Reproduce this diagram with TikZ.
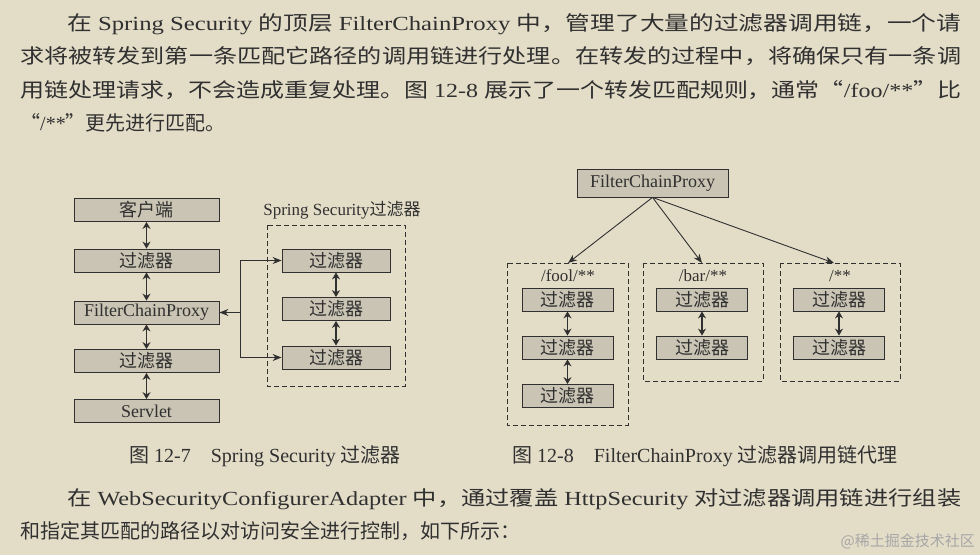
\documentclass[tikz,border=0pt]{standalone}
\usepackage{fontspec}
\usetikzlibrary{arrows.meta}
\setmainfont{Liberation Serif}
\newfontfamily\cjk{Noto Sans CJK SC}
\newcommand{\cj}[1]{{\cjk #1}}
\definecolor{bg}{HTML}{E3DDC8}
\definecolor{bx}{HTML}{C9C4B3}
\definecolor{ink}{HTML}{303030}
\begin{document}
\begin{tikzpicture}[x=1pt,y=-1pt,
  box/.style={draw=ink,fill=bx,line width=0.8pt,minimum height=23pt,inner sep=0pt,font=\fontsize{18}{20}\selectfont,text=ink},
  lbox/.style={box,minimum width=145pt},
  sbox/.style={box,minimum width=108pt},
  tbox/.style={box,minimum width=91pt},
  dbox/.style={draw=ink,dash pattern=on 5pt off 3pt,line width=0.9pt},
  dar/.style={{Stealth[length=7pt,width=8pt]}-{Stealth[length=7pt,width=8pt]},draw=ink,line width=1.5pt},
  ar/.style={-{Stealth[length=9pt,width=7pt]},draw=ink,line width=0.9pt},
  para/.style={anchor=base west,inner sep=0pt,text=ink,font=\fontsize{20}{24}\selectfont},
  capt/.style={anchor=base,inner sep=0pt,text=ink,font=\fontsize{20}{22}\selectfont},
  lab/.style={capt,font=\fontsize{17}{19}\selectfont}]
\fill[bg] (0,0) rectangle (980,555);
\useasboundingbox (0,0) rectangle (980,555);
% paragraph
\node[para] (p1) at (67,30) {\resizebox{894pt}{\height}{\cj{在} Spring Security \cj{的顶层} FilterChainProxy \cj{中，管理了大量的过滤器调用链，一个请}}};
\node[para] (p2) at (20,63) {\resizebox{941pt}{\height}{\cj{求将被转发到第一条匹配它路径的调用链进行处理。在转发的过程中，将确保只有一条调}}};
\node[para] (p3) at (20,97) {\resizebox{941pt}{\height}{\cj{用链处理请求，不会造成重复处理。图} 12-8 \cj{展示了一个转发匹配规则，通常“}/foo/**\cj{”比}}};
\node[para] (p4) at (20,130) {\cj{“}/**\cj{”更先进行匹配。}};
% left diagram
\node[lbox] (c) at (146.5,210) {\cj{客户端}};
\node[lbox] (f1) at (146.5,260.5) {\cj{过滤器}};
\node[lbox] (fcp) at (146.5,312.5) {FilterChainProxy};
\node[lbox] (f2) at (146.5,361) {\cj{过滤器}};
\node[lbox] (sv) at (146.5,411) {Servlet};
\draw[dar] (c) -- (f1);
\draw[dar] (f1) -- (fcp);
\draw[dar] (fcp) -- (f2);
\draw[dar] (f2) -- (sv);
\draw[dbox] (267,225) rectangle (405,386);
\node[lab] (sl) at (342,215) {Spring Security\cj{过滤器}};
\node[sbox] (s1) at (336,260.5) {\cj{过滤器}};
\node[sbox] (s2) at (336,309) {\cj{过滤器}};
\node[sbox] (s3) at (336,357.5) {\cj{过滤器}};
\draw[dar] (s1) -- (s2);
\draw[dar] (s2) -- (s3);
\coordinate (br) at (240,312.5);
\coordinate (bt) at (240,260.5);
\coordinate (bb) at (240,357.5);
\draw[ar] (br) -- (fcp);
\draw[ar] (br) -- (bt) -- (s1);
\draw[ar] (br) -- (bb) -- (s3);
% right diagram
\node[box,minimum width=151pt,minimum height=28pt] (rp) at (652.5,183) {FilterChainProxy};
\draw[dbox] (507,263) rectangle (628,425);
\draw[dbox] (643,263) rectangle (763,381);
\draw[dbox] (780,263) rectangle (900,381);
\coordinate (t1) at (568,263);
\coordinate (t2) at (702,263);
\coordinate (t3) at (834,263);
\draw[ar] (rp.south) -- (t1);
\draw[ar] (rp.south) -- (t2);
\draw[ar] (rp.south) -- (t3);
\node[lab] (l1) at (568,281) {/fool/**};
\node[lab] (l2) at (703,281) {/bar/**};
\node[lab] (l3) at (840,281) {/**};
\node[tbox] (a1) at (567.5,299.5) {\cj{过滤器}};
\node[tbox] (a2) at (567.5,347.5) {\cj{过滤器}};
\node[tbox] (a3) at (567.5,396) {\cj{过滤器}};
\node[tbox] (b1) at (702,299.5) {\cj{过滤器}};
\node[tbox] (b2) at (702,347.5) {\cj{过滤器}};
\node[tbox] (d1) at (839,299.5) {\cj{过滤器}};
\node[tbox] (d2) at (839,347.5) {\cj{过滤器}};
\draw[dar] (a1) -- (a2);
\draw[dar] (a2) -- (a3);
\draw[dar] (b1) -- (b2);
\draw[dar] (d1) -- (d2);
% captions
\node[capt] (cap1) at (265,462) {\cj{图} 12-7\hspace{20pt}Spring Security \cj{过滤器}};
\node[capt] (cap2) at (705,462) {\cj{图} 12-8\hspace{20pt}FilterChainProxy \cj{过滤器调用链代理}};
% bottom paragraph
\node[para] (q1) at (67,505) {\resizebox{894pt}{\height}{\cj{在} WebSecurityConfigurerAdapter \cj{中，通过覆盖} HttpSecurity \cj{对过滤器调用链进行组装}}};
\node[para] (q2) at (20,538) {\cj{和指定其匹配的路径以对访问安全进行控制，如下所示：}};
\node[anchor=base east,inner sep=0pt,text=gray!70,font=\fontsize{15}{17}\selectfont] (wm) at (975,546) {\cj{@稀土掘金技术社区}};
\end{tikzpicture}
\end{document}
